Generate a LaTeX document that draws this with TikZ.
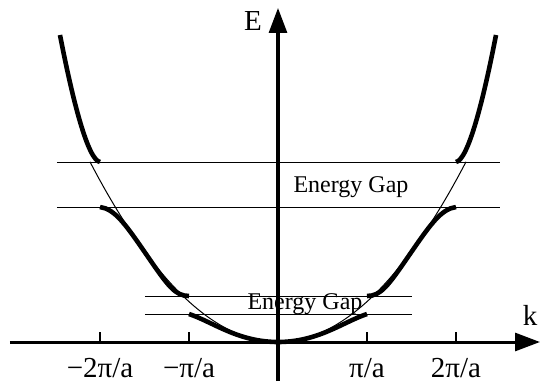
\documentclass[tikz,border=0pt]{standalone}
\usepackage{fontspec}
\setmainfont{Liberation Serif}
\usetikzlibrary{arrows.meta}
\tikzset{
  axisline/.style={line width=1.5pt,-{Triangle[length=12.5pt,width=9pt]}},
  bandcurve/.style={line width=2.3pt},
  freecurve/.style={line width=0.5pt},
  gapline/.style={line width=0.5pt},
  tickmark/.style={line width=1pt},
  ticklabel/.style={anchor=base,inner sep=0pt,font=\fontsize{14.5}{16}\selectfont},
  gaplabel/.style={inner sep=0pt,font=\fontsize{12}{14}\selectfont},
  axislabel/.style={inner sep=0pt,font=\fontsize{14.5}{16}\selectfont}
}

\begin{document}
\begin{tikzpicture}[x=0.5pt,y=0.5pt]
\path[use as bounding box] (-278,-39) rectangle (263,342);
% axes
\coordinate (kstart) at (-268,0);
\coordinate (kend) at (262,0);
\coordinate (Estart) at (0,-39);
\coordinate (Eend) at (0,334);
\draw[axisline] (kstart) -- (kend);
\draw[axisline] (Estart) -- (Eend);
\node[axislabel] (Elabel) at (-25,321) {E};
\node[axislabel] (klabel) at (252,27) {k};
% gap lines
\draw[gapline] (-221,180) -- (222,180);
\draw[gapline] (-221,135) -- (222,135);
\draw[gapline] (-133,46) -- (134,46);
\draw[gapline] (-133,28) -- (134,28);
\node[gaplabel] (gaptop) at (73,155) {Energy Gap};
\node[gaplabel] (gapbottom) at (27,38) {Energy Gap};
% free electron parabola
\draw[freecurve] plot[domain=-188:188,samples=80,smooth] (\x,{(0.0714*\x)^2});
% bands
\draw[bandcurve] (-89,28) .. controls (-65,20) and (-40,0) .. (0,0)
  .. controls (40,0) and (65,20) .. (89,28);
\foreach \s in {1,-1}{
\begin{scope}[xscale=\s]
\draw[bandcurve] (89,46) .. controls (103,46) and (110,56) .. (132,88)
  .. controls (152,117) and (163,133) .. (178,135);
\draw[bandcurve] (178,180) .. controls (190,182) and (205,240) .. (218,307);
\end{scope}
}
% ticks
\foreach \t/\lab in {-178/{−2π/a},-89/{−π/a},89/{π/a},178/{2π/a}}{
\draw[tickmark] (\t,0) -- (\t,10);
\node[ticklabel] at (\t,-35) {\lab};
}
\end{tikzpicture}
\end{document}
